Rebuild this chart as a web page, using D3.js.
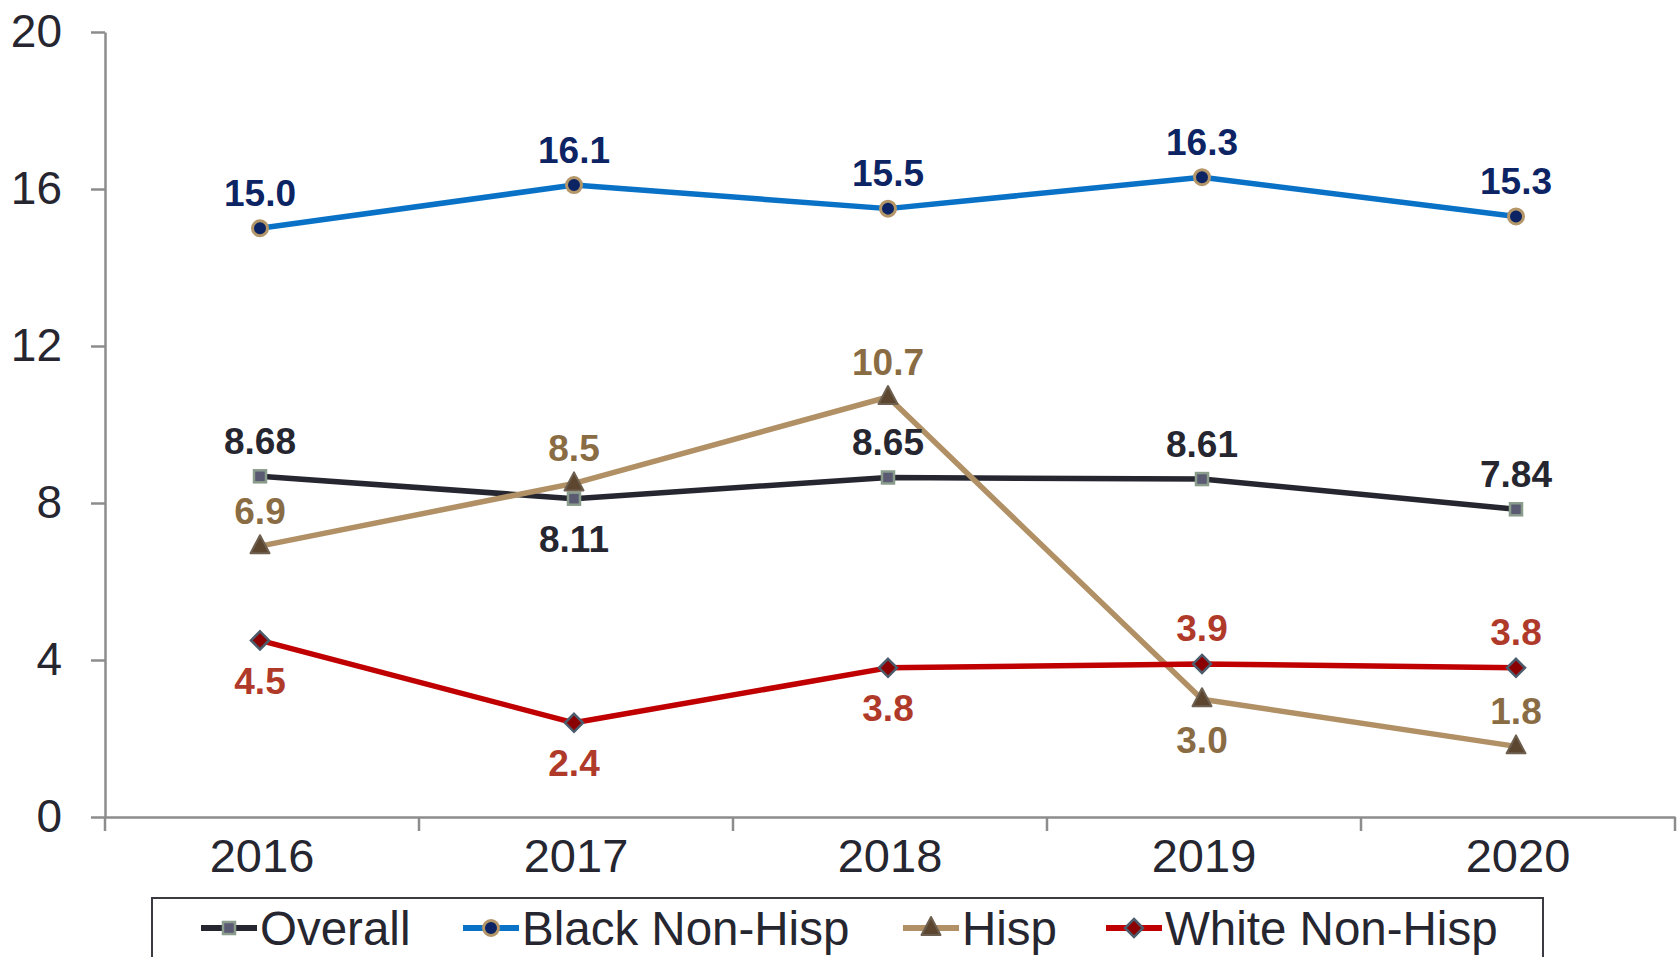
<!DOCTYPE html>
<html>
<head>
<meta charset="utf-8">
<script src="https://cdn.jsdelivr.net/npm/d3@7"></script>
<style>
  body { margin: 0; background: #fff; }
  text { font-family: "Liberation Sans", Arial, sans-serif; }
</style>
</head>
<body>
<div id="chart"></div>
<script>
// Data
// =====
var years = ["2016", "2017", "2018", "2019", "2020"];
var yTicks = [0, 4, 8, 12, 16, 20];

var overall = [8.68, 8.11, 8.65, 8.61, 7.84];
var blackNonHisp = [15.0, 16.1, 15.5, 16.3, 15.3];
var hisp = [6.9, 8.5, 10.7, 3.0, 1.8];
var whiteNonHisp = [4.5, 2.4, 3.8, 3.9, 3.8];

var overallLabels = ["8.68", "8.11", "8.65", "8.61", "7.84"];
var blackLabels = ["15.0", "16.1", "15.5", "16.3", "15.3"];
var hispLabels = ["6.9", "8.5", "10.7", "3.0", "1.8"];
var whiteLabels = ["4.5", "2.4", "3.8", "3.9", "3.8"];

// where each data label sits: above or below its point
var overallSide = ["above", "below", "above", "above", "above"];
var blackSide = ["above", "above", "above", "above", "above"];
var hispSide = ["above", "above", "above", "below", "above"];
var whiteSide = ["below", "below", "below", "above", "above"];

// Setup
// ======
var width = 1680;
var height = 957;
var plotLeft = 105;
var plotRight = 1675;
var plotTop = 32;
var plotBottom = 817;

var textColor = "#262630";
var axisColor = "#8c8c8c";

var svg = d3.select("#chart")
  .append("svg")
  .attr("width", width)
  .attr("height", height);

var x = d3.scaleBand().domain(years).range([plotLeft, plotRight]).padding(0);
var y = d3.scaleLinear().domain([0, 20]).range([plotBottom, plotTop]);

// series styling
var series = [
  { name: "Overall", values: overall, labels: overallLabels, side: overallSide,
    line: "#262630", fill: "#5a5a72", stroke: "#8a9c8c", labelColor: "#262630", shape: "square" },
  { name: "Black Non-Hisp", values: blackNonHisp, labels: blackLabels, side: blackSide,
    line: "#0a72c6", fill: "#0c2463", stroke: "#b49668", labelColor: "#0c2463", shape: "circle" },
  { name: "Hisp", values: hisp, labels: hispLabels, side: hispSide,
    line: "#b09064", fill: "#5c4630", stroke: "#6e6050", labelColor: "#8a6c44", shape: "triangle" },
  { name: "White Non-Hisp", values: whiteNonHisp, labels: whiteLabels, side: whiteSide,
    line: "#c00000", fill: "#8b0000", stroke: "#4c5c6c", labelColor: "#b03a2a", shape: "diamond" }
];

function drawMarker(g, shape, cx, cy, s) {
  if (shape === "square") {
    g.append("rect")
      .attr("x", cx - 6).attr("y", cy - 6)
      .attr("width", 12).attr("height", 12)
      .attr("fill", s.fill).attr("stroke", s.stroke).attr("stroke-width", 2.5);
  }
  else if (shape === "circle") {
    g.append("circle")
      .attr("cx", cx).attr("cy", cy).attr("r", 7.5)
      .attr("fill", s.fill).attr("stroke", s.stroke).attr("stroke-width", 3);
  }
  else if (shape === "triangle") {
    g.append("path")
      .attr("d", "M" + cx + "," + (cy - 11) + "L" + (cx + 9.5) + "," + (cy + 7) + "L" + (cx - 9.5) + "," + (cy + 7) + "Z")
      .attr("fill", s.fill).attr("stroke", s.stroke).attr("stroke-width", 2)
      .attr("stroke-linejoin", "round");
  }
  else {
    g.append("path")
      .attr("d", "M" + cx + "," + (cy - 9) + "L" + (cx + 9) + "," + cy + "L" + cx + "," + (cy + 9) + "L" + (cx - 9) + "," + cy + "Z")
      .attr("fill", s.fill).attr("stroke", s.stroke).attr("stroke-width", 2.5);
  }
}

// Axes
// =====
var yAxis = svg.append("g")
  .attr("transform", "translate(" + plotLeft + ",0)")
  .call(d3.axisLeft(y).tickValues(yTicks).tickSize(14).tickPadding(29).tickSizeOuter(0));
yAxis.select(".domain").attr("stroke", axisColor).attr("stroke-width", 2.5);
yAxis.selectAll(".tick line").attr("stroke", axisColor).attr("stroke-width", 2.5);
yAxis.selectAll(".tick text")
  .attr("fill", textColor)
  .style("font-size", "46px");

var xAxis = svg.append("g")
  .attr("transform", "translate(0," + plotBottom + ")")
  .call(d3.axisBottom(x).tickSize(0).tickPadding(22).tickSizeOuter(0));
xAxis.select(".domain").attr("stroke", axisColor).attr("stroke-width", 2.5);
xAxis.selectAll(".tick text")
  .attr("fill", textColor)
  .style("font-size", "47px");

// category boundary ticks
var bounds = years.map(function(d) { return x(d); }).concat([x.range()[1]]);
xAxis.selectAll(".bound")
  .data(bounds)
  .enter()
  .append("line")
  .attr("class", "bound")
  .attr("x1", function(d) { return d; })
  .attr("x2", function(d) { return d; })
  .attr("y1", 0)
  .attr("y2", 14)
  .attr("stroke", axisColor)
  .attr("stroke-width", 2.5);

// Lines, markers, labels
// =======================
var cx = function(i) { return x(years[i]) + x.bandwidth() / 2 - 2; };

var line = d3.line()
  .x(function(d, i) { return cx(i); })
  .y(function(d) { return y(d); });

series.forEach(function(s) {
  svg.append("path")
    .datum(s.values)
    .attr("d", line)
    .attr("fill", "none")
    .attr("stroke", s.line)
    .attr("stroke-width", 5.5)
    .attr("stroke-linejoin", "round");
});

series.forEach(function(s) {
  var g = svg.append("g");
  s.values.forEach(function(v, i) {
    drawMarker(g, s.shape, cx(i), y(v), s);
  });
});

series.forEach(function(s) {
  svg.append("g")
    .selectAll("text")
    .data(s.values)
    .enter()
    .append("text")
    .attr("x", function(d, i) { return cx(i); })
    .attr("y", function(d, i) { return y(d) + (s.side[i] === "above" ? -35 : 41); })
    .attr("text-anchor", "middle")
    .attr("dominant-baseline", "central")
    .attr("fill", s.labelColor)
    .style("font-size", "37px")
    .style("font-weight", "bold")
    .text(function(d, i) { return s.labels[i]; });
});

// Legend
// =======
var legend = svg.append("g");
legend.append("rect")
  .attr("x", 152).attr("y", 898)
  .attr("width", 1391).attr("height", 80)
  .attr("fill", "#fff")
  .attr("stroke", "#3a3a40")
  .attr("stroke-width", 2);

var legendX = [201, 463, 903, 1106];
var legendY = 928;
series.forEach(function(s, i) {
  var g = legend.append("g");
  g.append("line")
    .attr("x1", legendX[i]).attr("x2", legendX[i] + 56)
    .attr("y1", legendY).attr("y2", legendY)
    .attr("stroke", s.line).attr("stroke-width", 6);
  drawMarker(g, s.shape, legendX[i] + 28, legendY, s);
  g.append("text")
    .attr("x", legendX[i] + 59)
    .attr("y", legendY)
    .attr("dominant-baseline", "central")
    .attr("fill", textColor)
    .style("font-size", "47.5px")
    .text(s.name);
});
</script>
</body>
</html>
